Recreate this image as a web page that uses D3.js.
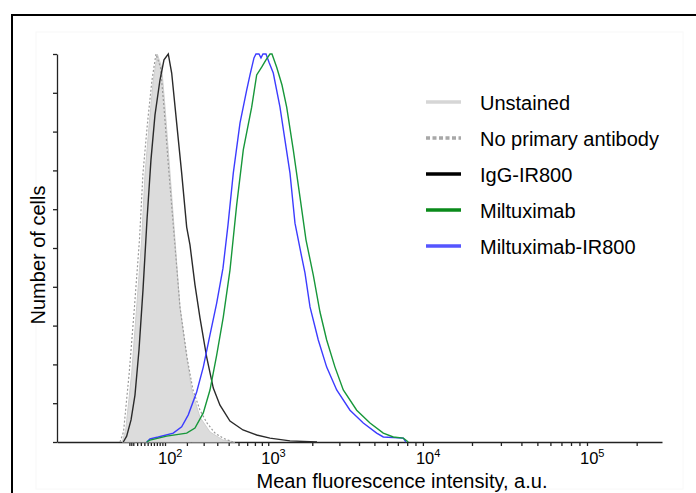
<!DOCTYPE html>
<html>
<head>
<meta charset="utf-8">
<script src="https://cdn.jsdelivr.net/npm/d3@7"></script>
<style>
  body { margin: 0; background: #fff; }
  text { font-family: Arial, "Liberation Sans", sans-serif; fill: #000; }
</style>
</head>
<body>
<div id="container"></div>
<script>
// fluorescence values (a.u.) and % of mode
var unstainedX = [-30, -20, -4, 8.7, 22.3, 31.9, 44.9, 57.9, 71.5, 87.4, 100, 120.2, 141.8, 165, 198.8, 226.1, 275.9, 344.1, 448, 562],
    unstainedY = [0, 3.1, 17.8, 34.8, 52.1, 69.1, 82.2, 93.3, 100, 96.6, 86.3, 69.3, 52.1, 34.8, 21.9, 13.4, 6.4, 2.6, 0.5, 0];

var noPrimaryX = [-36.6, -26.2, -10.5, 3, 16.2, 26.1, 39.4, 53.6, 67, 82.9, 96.1, 116, 139.6, 165, 200.4, 233.5, 275.9, 322.6, 381.9, 448.2, 542.1],
    noPrimaryY = [0, 2.6, 17.8, 34.8, 52.1, 69.3, 82.2, 93.3, 100, 96.6, 86.3, 69.3, 52.1, 34.8, 21.9, 13.4, 8.2, 4.9, 2.3, 1, 0];

var iggX = [-26.9, -17.4, -5.7, 4.3, 14.9, 26.1, 37.9, 50.3, 63.6, 81.1, 96.1, 113.1, 127.4, 149.5, 173.3, 198.8, 216.6, 245.2, 275.9, 320.5, 368.8, 422.5, 512.5, 650.1, 824.6, 1029, 1418, 2148],
    iggY = [0, 1.5, 5.7, 12.1, 23.7, 39.2, 57.2, 72.7, 84.3, 93.3, 98.5, 100, 95.1, 82.2, 69.3, 55.4, 50.8, 40.5, 32, 21.9, 13.9, 9.5, 5.4, 3.1, 1.8, 1, 0.3, 0];

var miltX = [37, 47.2, 106.7, 198.8, 245.2, 297.4, 344.1, 395.4, 450.8, 512.5, 580.3, 653.6, 757, 824.6, 897.1, 963.7, 1029.2, 1063.5, 1147.5, 1249.4, 1346, 1493, 1657, 1817, 2031, 2247, 2484, 2811, 3178, 3867, 4692, 5683, 6559, 7567, 8127],
    miltY = [0, 0.5, 1.5, 2.3, 3.6, 7.5, 13.4, 22.4, 32.2, 44.3, 61.1, 75.3, 86.3, 94.6, 96.6, 98.5, 100, 100, 96.6, 92, 86.3, 75.3, 63.1, 52.1, 43, 33.5, 26.3, 19.3, 13.4, 8.2, 4.9, 2.3, 1.3, 1, 0];

var miltIrX = [37, 47.2, 75, 134.3, 173.3, 207.3, 255.4, 297.4, 344.1, 395.4, 448.2, 493.5, 545.2, 616.1, 693.9, 735.2, 787.5, 814.9, 857.2, 886.7, 916.9, 963.7, 1012.6, 1086, 1210, 1310, 1418, 1533, 1700.8, 1789, 1932, 2190, 2484, 2883, 3507, 4257, 5167, 5683, 7567, 7863],
    miltIrY = [0, 0.8, 1.3, 2.3, 3.9, 7, 12.9, 19.3, 27.6, 35.8, 44.8, 55.9, 69.3, 82.2, 90.7, 94.6, 99, 100, 100, 99, 100, 100, 97.9, 95.1, 86.3, 77.8, 69.3, 56.4, 47.7, 43.6, 34.8, 26.3, 19.3, 13.4, 8.2, 4.9, 2.3, 1.3, 1, 0];

var minorTicks = [-10, -5, 0, 10, 20, 30, 40, 50, 60, 70, 80, 90, 100, 200, 300, 400, 500, 600, 700, 800, 900,
                  1000, 2000, 3000, 4000, 5000, 6000, 7000, 8000, 9000, 10000,
                  20000, 30000, 40000, 50000, 60000, 70000, 80000, 90000, 100000, 200000];
var majorTicks = [100, 1000, 10000, 100000],
    majorExp = ['2', '3', '4', '5'];

var legendNames = ['Unstained', 'No primary antibody', 'IgG-IR800', 'Miltuximab', 'Miltuximab-IR800'],
    legendColors = ['#d6d6d6', '#a8a8a8', '#000000', '#0a8a1a', '#5555ff'];

var width = 696, height = 493;

var svg = d3.select('#container')
    .append('svg')
    .attr('width', width)
    .attr('height', height);

// faint outer box and frame
svg.append('rect')
    .attr('x', 36).attr('y', 32)
    .attr('width', 647).attr('height', 457)
    .style('fill', 'none').style('stroke', '#f8f8f8');
svg.append('path')
    .attr('d', 'M12,' + (height + 2) + 'V15H' + (width + 2))
    .style('fill', 'none').style('stroke', '#000').style('stroke-width', 2);

var x = d3.scaleSymlog()
    .constant(180)
    .domain([-341, 284700])
    .range([57, 662]);

var y = d3.scaleLinear()
    .domain([0, 100])
    .range([442, 54]);

function pts(xs, ys) {
    return xs.map(function(d, i) { return [d, ys[i]]; });
}

var line = d3.line()
    .x(function(d) { return x(d[0]); })
    .y(function(d) { return y(d[1]); });

var area = d3.area()
    .x(function(d) { return x(d[0]); })
    .y0(y(0))
    .y1(function(d) { return y(d[1]); });

// axes
svg.append('g')
    .attr('transform', 'translate(0,' + y(0) + ')')
    .call(d3.axisBottom(x).tickValues(minorTicks).tickFormat('').tickSize(4).tickSizeOuter(0));
svg.append('g')
    .attr('transform', 'translate(' + x.range()[0] + ',0)')
    .call(d3.axisLeft(y).tickValues(d3.range(0, 101, 10)).tickFormat('').tickSize(4).tickSizeOuter(0));
svg.selectAll('.domain, .tick line').style('stroke', '#222').style('stroke-width', 1.3);

// histograms
svg.append('path')
    .datum(pts(unstainedX, unstainedY))
    .attr('d', area)
    .style('fill', '#dcdcdc')
    .style('stroke', '#cfcfcf')
    .style('stroke-width', 1);

svg.append('path')
    .datum(pts(noPrimaryX, noPrimaryY))
    .attr('d', line)
    .style('fill', 'none')
    .style('stroke', '#9a9a9a')
    .style('stroke-width', 1.2)
    .style('stroke-dasharray', '2,2');

svg.append('path')
    .datum(pts(iggX, iggY))
    .attr('d', line)
    .style('fill', 'none')
    .style('stroke', '#2a2a2a')
    .style('stroke-width', 1.4);

svg.append('path')
    .datum(pts(miltIrX, miltIrY))
    .attr('d', line)
    .style('fill', 'none')
    .style('stroke', '#3c3cff')
    .style('stroke-width', 1.4);

svg.append('path')
    .datum(pts(miltX, miltY))
    .attr('d', line)
    .style('fill', 'none')
    .style('stroke', '#17973a')
    .style('stroke-width', 1.4);

// decade labels
var lab = svg.selectAll('.dec')
    .data(majorTicks)
    .enter()
    .append('text')
    .attr('class', 'dec')
    .attr('x', function(d) { return x(d) - 7; })
    .attr('y', 464)
    .style('font-size', '16.5px');
lab.append('tspan').text('10');
lab.append('tspan')
    .attr('dy', -7)
    .style('font-size', '11px')
    .text(function(d, i) { return majorExp[i]; });

// axis titles
svg.append('text')
    .attr('x', 402)
    .attr('y', 488)
    .attr('text-anchor', 'middle')
    .style('font-size', '20px')
    .text('Mean fluorescence intensity, a.u.');

svg.append('text')
    .attr('transform', 'translate(45,255) rotate(-90)')
    .attr('text-anchor', 'middle')
    .style('font-size', '20px')
    .text('Number of cells');

// legend
var leg = svg.selectAll('.leg')
    .data(legendNames)
    .enter()
    .append('g')
    .attr('class', 'leg')
    .attr('transform', function(d, i) { return 'translate(426,' + (102 + i * 36) + ')'; });

leg.append('line')
    .attr('x1', 0).attr('x2', 35)
    .style('stroke', function(d, i) { return legendColors[i]; })
    .style('stroke-width', 3.5)
    .style('stroke-dasharray', function(d, i) { return i === 1 ? '4,2.5' : null; });

leg.append('text')
    .attr('x', 54)
    .attr('y', 8)
    .style('font-size', '20px')
    .text(function(d) { return d; });
</script>
</body>
</html>
